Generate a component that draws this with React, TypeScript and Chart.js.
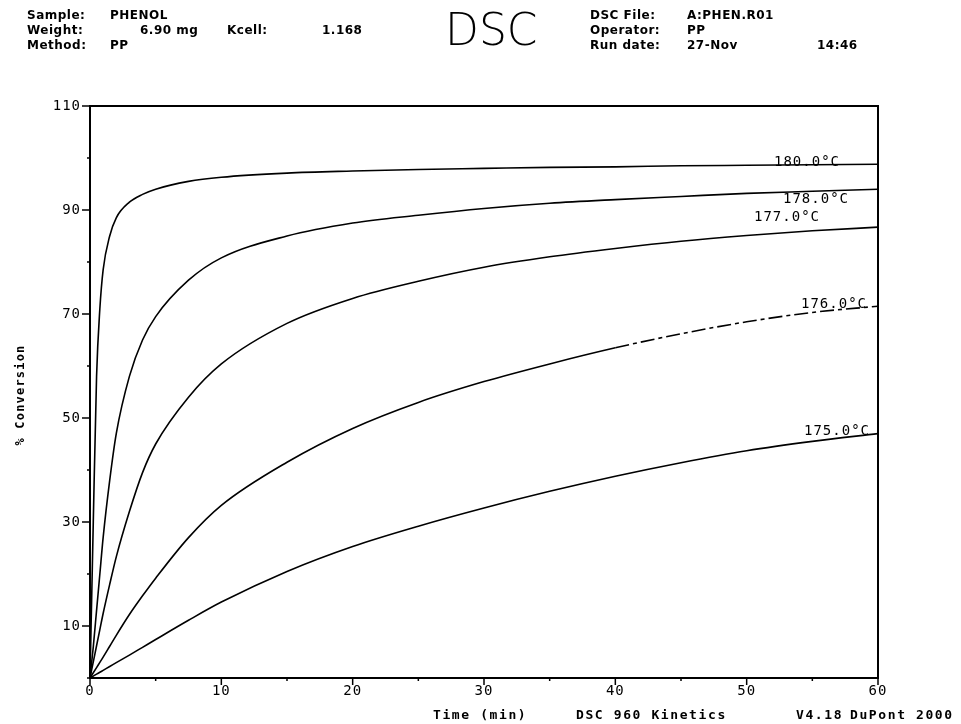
import { useEffect, useRef } from "react";
import { Chart, registerables } from "chart.js";

Chart.register(...registerables);

// Reaction time (min) shared by every isothermal run
const times = [0, 0.25, 0.5, 0.75, 1, 1.5, 2, 3, 4, 5, 7.5, 10, 15, 20, 25, 30, 35, 40, 45, 50, 55, 60];

// % conversion at each isothermal temperature
const conv180 = [0, 30, 58, 71, 78.5, 85, 88.5, 91.5, 93, 94, 95.5, 96.3, 97.1, 97.5, 97.8, 98, 98.2, 98.3, 98.5, 98.6, 98.7, 98.8];
const conv178 = [0, 6, 13, 20, 27, 38, 47, 58, 65, 69.5, 76.5, 80.8, 85, 87.5, 89, 90.3, 91.3, 92, 92.6, 93.2, 93.6, 94];
const conv177 = [0, 3.1, 6.2, 9.3, 12.4, 18, 23.3, 32, 39.5, 45, 54, 60.4, 68.2, 73, 76.3, 79, 81, 82.6, 84, 85.1, 86, 86.7];
const conv176 = [0, 1, 2, 3, 4, 6.1, 8.2, 12.2, 15.8, 19.2, 27, 33.2, 41.5, 48, 53, 57, 60.4, 63.5, 66.2, 68.5, 70.3, 71.5];
const conv175 = [0, 0.37, 0.74, 1.1, 1.47, 2.2, 2.95, 4.4, 5.9, 7.4, 11.1, 14.6, 20.5, 25.3, 29.2, 32.7, 35.9, 38.8, 41.4, 43.7, 45.5, 47];

const seriesNames = ["180.0°C", "178.0°C", "177.0°C", "176.0°C", "175.0°C"];
const seriesValues = [conv180, conv178, conv177, conv176, conv175];

// Labelled ticks; the remaining ticks are drawn as short marks
const xTickLabels = [0, 10, 20, 30, 40, 50, 60];
const yTickLabels = [10, 30, 50, 70, 90, 110];

const headerLeft = [
  ["Sample:", "PHENOL", "", ""],
  ["Weight:", "", "Kcell:", "1.168"],
  ["Method:", "PP", "", ""],
];
const weightValue = "6.90 mg";
const headerRight = [
  ["DSC File:", "A:PHEN.R01", ""],
  ["Operator:", "PP", ""],
  ["Run date:", "27-Nov", "14:46"],
];

const SANS = "'DejaVu Sans', sans-serif";
const MONO = "'DejaVu Sans Mono', monospace";

// Where each curve label sits relative to the curve's last point
const labelPlacement = [
  { rightInset: 38, dy: -2 },
  { rightInset: 29, dy: 10 },
  { rightInset: 58, dy: -10 },
  { rightInset: 11, dy: -2 },
  { rightInset: 8, dy: -2 },
];

const decorations = {
  id: "dscDecorations",
  afterDraw(chart: any) {
    const { ctx, chartArea, scales } = chart;
    const xs = scales.x;
    const ys = scales.y;
    const { left, right, top, bottom } = chartArea;
    ctx.save();
    ctx.strokeStyle = "#000";
    ctx.fillStyle = "#000";

    // plot frame
    ctx.lineWidth = 2;
    ctx.strokeRect(left, top, right - left, bottom - top);

    // y ticks
    ctx.lineWidth = 1.5;
    ctx.font = `14px ${MONO}`;
    ctx.letterSpacing = "1px";
    ctx.textAlign = "right";
    ctx.textBaseline = "middle";
    for (const t of ys.ticks) {
      const py = ys.getPixelForValue(t.value);
      const major = yTickLabels.includes(t.value);
      ctx.beginPath();
      ctx.moveTo(left - (major ? 8 : 3), py);
      ctx.lineTo(left + 1, py);
      ctx.stroke();
      if (major) ctx.fillText(String(t.value), left - 9, py);
    }

    // x ticks
    ctx.textAlign = "center";
    ctx.textBaseline = "top";
    for (const t of xs.ticks) {
      const px = xs.getPixelForValue(t.value);
      const major = xTickLabels.includes(t.value);
      ctx.beginPath();
      ctx.moveTo(px, bottom - 1);
      ctx.lineTo(px, bottom + (major ? 7 : 3));
      ctx.stroke();
      if (major) ctx.fillText(String(t.value), px, bottom + 6);
    }

    // curve labels
    ctx.font = `14px ${MONO}`;
    ctx.letterSpacing = "1px";
    ctx.textAlign = "right";
    ctx.textBaseline = "middle";
    seriesNames.forEach((name, i) => {
      const vals = seriesValues[i];
      const py = ys.getPixelForValue(vals[vals.length - 1]);
      const p = labelPlacement[i];
      ctx.fillText(name, right - p.rightInset, py + p.dy);
    });

    // axis titles and footer
    ctx.font = `bold 13px ${MONO}`;
    ctx.letterSpacing = "1.6px";
    ctx.textAlign = "left";
    ctx.textBaseline = "alphabetic";
    ctx.fillText("Time (min)", 433, 719);
    ctx.fillText("DSC 960 Kinetics", 576, 719);
    ctx.fillText("V4.18", 796, 719);
    ctx.fillText("DuPont 2000", 850, 719);

    ctx.save();
    ctx.translate(24, 395);
    ctx.rotate(-Math.PI / 2);
    ctx.textAlign = "center";
    ctx.letterSpacing = "1.2px";
    ctx.font = `bold 12px ${MONO}`;
    ctx.fillText("% Conversion", 0, 0);
    ctx.restore();

    // header block
    ctx.font = `bold 12px ${SANS}`;
    ctx.letterSpacing = "0.5px";
    ctx.textAlign = "left";
    const rowsY = [19, 34, 49];
    headerLeft.forEach((row, i) => {
      ctx.fillText(row[0], 27, rowsY[i]);
      if (row[1]) ctx.fillText(row[1], 110, rowsY[i]);
      if (row[2]) ctx.fillText(row[2], 227, rowsY[i]);
      if (row[3]) ctx.fillText(row[3], 322, rowsY[i]);
    });
    ctx.fillText(weightValue, 140, rowsY[1]);
    headerRight.forEach((row, i) => {
      ctx.fillText(row[0], 590, rowsY[i]);
      ctx.fillText(row[1], 687, rowsY[i]);
      if (row[2]) ctx.fillText(row[2], 817, rowsY[i]);
    });

    ctx.font = `200 44px ${SANS}`;
    ctx.letterSpacing = "0px";
    ctx.fillText("DSC", 445, 45);

    ctx.restore();
  },
};

export default function App() {
  const canvasRef = useRef<HTMLCanvasElement | null>(null);

  useEffect(() => {
    const canvas = canvasRef.current;
    if (!canvas) return;
    const datasets = seriesValues.map((vals, i) => ({
      label: seriesNames[i],
      data: times.map((t, k) => ({ x: t, y: vals[k] })),
      borderColor: "#000",
      borderWidth: 1.6,
      pointRadius: 0,
      fill: false,
      cubicInterpolationMode: "monotone" as const,
      segment:
        i === 3
          ? { borderDash: (c: any) => (c.p0.parsed.x >= 40 ? [14, 4, 4, 4] : undefined) }
          : undefined,
    }));

    const chart = new Chart(canvas, {
      type: "line",
      data: { datasets },
      options: {
        animation: false,
        responsive: false,
        maintainAspectRatio: false,
        layout: { padding: { left: 90, right: 83, top: 106, bottom: 46 } },
        plugins: { legend: { display: false }, tooltip: { enabled: false } },
        scales: {
          x: {
            type: "linear",
            min: 0,
            max: 60,
            display: false,
            afterBuildTicks: (scale: any) => {
              const ticks = [];
              for (let v = 0; v <= 60; v += 5) ticks.push({ value: v });
              scale.ticks = ticks;
            },
          },
          y: {
            type: "linear",
            min: 0,
            max: 110,
            display: false,
            afterBuildTicks: (scale: any) => {
              const ticks = [];
              for (let v = 0; v <= 110; v += 10) ticks.push({ value: v });
              scale.ticks = ticks;
            },
          },
        },
      },
      plugins: [decorations],
    });
    return () => chart.destroy();
  }, []);

  return (
    <div style={{ position: "absolute", left: 0, top: 0, width: 961, height: 724, background: "#fff" }}>
      <canvas ref={canvasRef} width={961} height={724} style={{ display: "block" }} />
    </div>
  );
}
